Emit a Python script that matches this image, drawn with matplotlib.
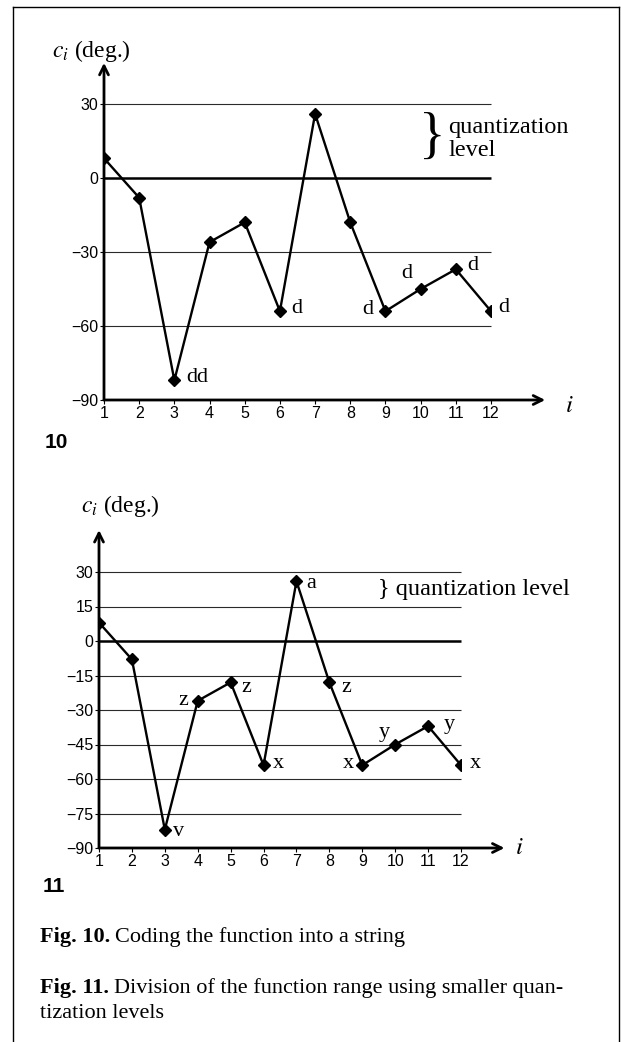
import matplotlib.pyplot as plt
from matplotlib.lines import Line2D

plt.rcParams['font.family'] = 'Liberation Serif'
plt.rcParams['mathtext.fontset'] = 'stix'

W, H = 621, 1042

# sample index and angle values c_i (same function on both panels)
i_values = list(range(1, 13))
c_values = [8, -8, -82, -26, -18, -54, 26, -18, -54, -45, -37, -54]

# quantization levels (horizontal lines) and y ticks
levels_10 = [30, 0, -30, -60]
levels_11 = [30, 15, 0, -15, -30, -45, -60, -75]
yticks_10 = [30, 0, -30, -60, -90]
yticks_11 = [30, 15, 0, -15, -30, -45, -60, -75, -90]

# string codes written next to the points
codes_10 = [None, None, 'dd', None, None, 'd', None, None, 'd', 'd', 'd', 'd']
codes_11 = [None, None, 'v', 'z', 'z', 'x', 'a', 'z', 'x', 'y', 'y', 'x']

# where each code sits relative to its point (points)
offs_10 = [None, None, (8.5, 2), None, None, (8.5, 2), None, None, (-8.5, 1.5),
           (-6, 11), (8, 3), (5, 3)]
offs_11 = [None, None, (6, -1.5), (-7, 0.5), (8, -3.5), (6.5, 1.5), (7, -1.5),
           (8.5, -3.5), (-6, 1.5), (-4, 8.5), (11, 1), (6.5, 1.5)]


def fx(px):
    return px / W


def fy(py):
    return 1 - py / H


fig = plt.figure(figsize=(W / 100, H / 100), dpi=100)
fig.patch.set_facecolor('white')


def fmt(v):
    return str(v).replace('-', '\u2212')


def draw_panel(left, right, top, bottom, levels, yticks, codes, offs,
               arrow_x, arrow_y, ilab, clab):
    ax = fig.add_axes([fx(left), fy(bottom), (right - left) / W, (bottom - top) / H])
    ax.set_xlim(1, 12)
    ax.set_ylim(-90, 30)
    ax.patch.set_alpha(0)
    for s in ax.spines.values():
        s.set_visible(False)

    # quantization levels, zero line heavier
    for lv in levels:
        ax.hlines(lv, 1, 12, colors='black' if lv == 0 else '#2a2a2a',
                  lw=1.8 if lv == 0 else 0.8, clip_on=False, zorder=1)

    ax.plot(i_values, c_values, color='black', lw=1.7, marker='D', ms=6.5,
            clip_on=True, zorder=3)

    for x, y, c, o in zip(i_values, c_values, codes, offs):
        if c is None:
            continue
        ax.annotate(c, (x, y), xytext=o, textcoords='offset points',
                    ha='left' if o[0] > 0 else 'right', va='center',
                    fontsize=16, zorder=4)

    # axes with arrow heads
    ap = dict(arrowstyle='->', lw=2, color='black', shrinkA=0, shrinkB=0,
              mutation_scale=16)
    ax.annotate('', xy=(arrow_x, 0), xytext=(0, 0), xycoords='axes fraction',
                textcoords='axes fraction', arrowprops=ap, zorder=5)
    ax.annotate('', xy=(0, arrow_y), xytext=(0, 0), xycoords='axes fraction',
                textcoords='axes fraction', arrowprops=ap, zorder=5)

    ax.set_xticks(i_values)
    ax.set_xticklabels([str(v) for v in i_values], fontfamily='Liberation Sans')
    ax.set_yticks(yticks)
    ax.set_yticklabels([fmt(v) for v in yticks], fontfamily='Liberation Sans')
    ax.tick_params(axis='both', direction='out', length=3, width=0.8,
                   labelsize=11.5, pad=1, color='black')

    ax.text(ilab[0], ilab[1], '$i$', transform=ax.transAxes, fontsize=18,
            ha='left', va='center')
    ax.text(clab[0], clab[1], '$c_i$ (deg.)', transform=ax.transAxes,
            fontsize=17, ha='left', va='baseline')
    return ax


ax1 = draw_panel(104, 491, 104, 400, levels_10, yticks_10, codes_10, offs_10,
                 1.14, 1.139, (1.19, -0.02), (-0.134, 1.159))
ax1.text(0.848, 0.882, '}', transform=ax1.transAxes, fontsize=40,
         ha='center', va='center')
ax1.text(0.889, 0.882, 'quantization\nlevel', transform=ax1.transAxes,
         fontsize=17.5, ha='left', va='center', linespacing=1.1)

ax2 = draw_panel(99, 461, 572, 848, levels_11, yticks_11, codes_11, offs_11,
                 1.12, 1.152, (1.15, 0.0), (-0.05, 1.217))
ax2.text(0.771, 0.938, '} quantization level', transform=ax2.transAxes,
         fontsize=17.5, ha='left', va='center')

# panel numbers
fig.text(fx(45), fy(442), '10', fontfamily='Liberation Sans', fontweight='bold',
         fontsize=15, va='center')
fig.text(fx(43), fy(887), '11', fontfamily='Liberation Sans', fontweight='bold',
         fontsize=15, va='center')

# captions
renderer = fig.canvas.get_renderer()


def caption(x, y, bold, rest):
    t = fig.text(fx(x), fy(y), bold, fontweight='bold', fontsize=16, va='center')
    bb = t.get_window_extent(renderer=renderer)
    fig.text(fx(bb.x1 + 5), fy(y), rest, fontsize=16, va='center')


caption(40, 937, 'Fig. 10.', 'Coding the function into a string')
caption(40, 988, 'Fig. 11.', 'Division of the function range using smaller quan-')
fig.text(fx(40), fy(1013), 'tization levels', fontsize=16, va='center')

# page frame
for xs, ys in [([13, 619], [7, 7]), ([13, 13], [7, 1042]), ([619, 619], [7, 1042])]:
    fig.add_artist(Line2D([fx(v) for v in xs], [fy(v) for v in ys],
                          transform=fig.transFigure, color='black', lw=1.0))

fig.savefig('out.png', dpi=100, facecolor='white')
